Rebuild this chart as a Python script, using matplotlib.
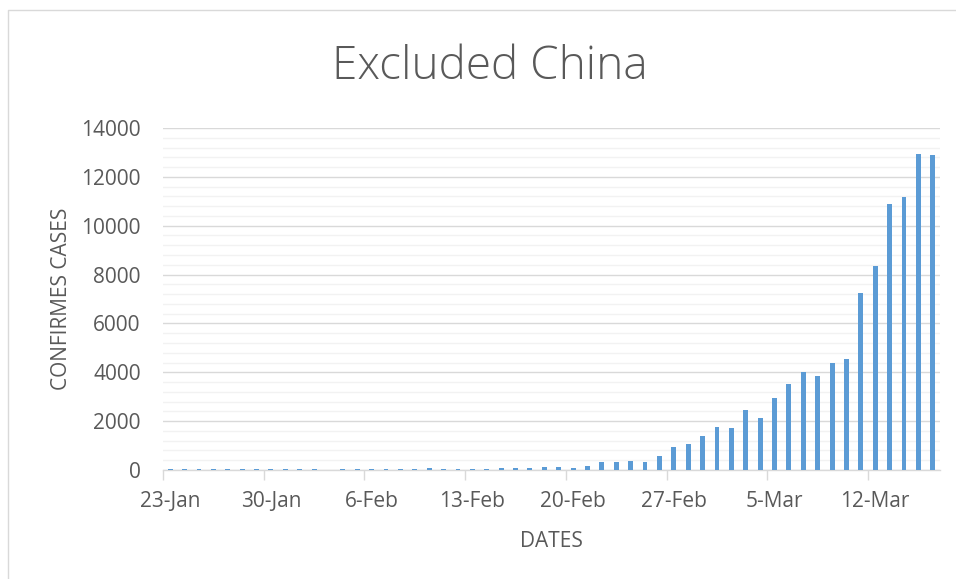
import matplotlib
matplotlib.use("Agg")
import matplotlib.pyplot as plt
import matplotlib.dates as mdates
import matplotlib.ticker as mticker
from matplotlib.lines import Line2D
import pandas as pd

# ---- data ----
dates = pd.date_range("2020-01-23", "2020-03-16", freq="D")
cases = [35, 30, 38, 32, 35, 38, 36, 40, 42, 38,
         34, 5, 40, 38, 38, 45, 38, 40, 75, 40,
         42, 40, 38, 68, 82, 95, 109, 123, 80, 177,
         327, 327, 355, 330, 573, 935, 1070, 1410, 1780, 1719,
         2455, 2142, 2955, 3533, 3997, 3847, 4366, 4557, 7244, 8363,
         10887, 11160, 12920, 12892]
label_dates = pd.to_datetime(["2020-01-23", "2020-01-30", "2020-02-06", "2020-02-13",
                              "2020-02-20", "2020-02-27", "2020-03-05", "2020-03-12"])
title = "Excluded China"
xlabel = "DATES"
ylabel = "CONFIRMES CASES"

# ---- style ----
plt.rcParams['font.family'] = ['Open Sans', 'DejaVu Sans']
text_color = "#595959"
bar_color = "#5B9BD5"
fs = 15

fig = plt.figure(figsize=(9.56, 5.79), dpi=100)
W, H = 956, 579
ax = fig.add_axes([163 / W, 1 - 470 / H, (940 - 163) / W, (470 - 128) / H])

ax.bar(dates, cases, width=0.34, color=bar_color, zorder=3)

half = pd.Timedelta(hours=12)
ax.set_xlim(dates[0] - half, dates[-1] + half)
ax.set_ylim(0, 14000)

# x axis: tick marks between categories, labels on categories
boundaries = pd.date_range(dates[0] - half, dates[-1] + half, freq="7D")
ax.xaxis.set_major_locator(mticker.FixedLocator(mdates.date2num(boundaries)))
ax.xaxis.set_major_formatter(mticker.NullFormatter())
ax.xaxis.set_minor_locator(mticker.FixedLocator(mdates.date2num(label_dates)))
ax.xaxis.set_minor_formatter(mdates.DateFormatter("%-d-%b"))
ax.tick_params(axis="x", which="major", length=7, width=1, color="#D9D9D9", direction="out")
ax.tick_params(axis="x", which="minor", length=0, pad=15, labelsize=fs, labelcolor=text_color)

# y axis
ax.yaxis.set_major_locator(mticker.MultipleLocator(2000))
ax.yaxis.set_minor_locator(mticker.MultipleLocator(400))
ax.tick_params(axis="y", which="both", length=0, pad=16, labelsize=fs, labelcolor=text_color)
ax.grid(axis="y", which="major", color="#D9D9D9", linewidth=1, zorder=0)
ax.grid(axis="y", which="minor", color="#F2F2F2", linewidth=1, zorder=0)
ax.set_axisbelow(True)

for s in ["top", "right", "left"]:
    ax.spines[s].set_visible(False)
ax.spines["bottom"].set_color("#D9D9D9")
ax.spines["bottom"].set_linewidth(1)

ax.set_xlabel(xlabel, fontsize=fs, color=text_color, labelpad=14)
ax.set_ylabel(ylabel, fontsize=fs, color=text_color, labelpad=6.5)

fig.text(490 / W, 1 - 67 / H, title, ha="center", va="center", fontsize=33,
         color=text_color, fontweight="light")

# chart-area border (only top and left edges are inside the picture)
fig.add_artist(Line2D([7.5 / W, 7.5 / W, 1.0], [0.0, 1 - 9.5 / H, 1 - 9.5 / H],
                      transform=fig.transFigure, color="#D9D9D9", linewidth=1))

fig.savefig("out.png", dpi=100)
